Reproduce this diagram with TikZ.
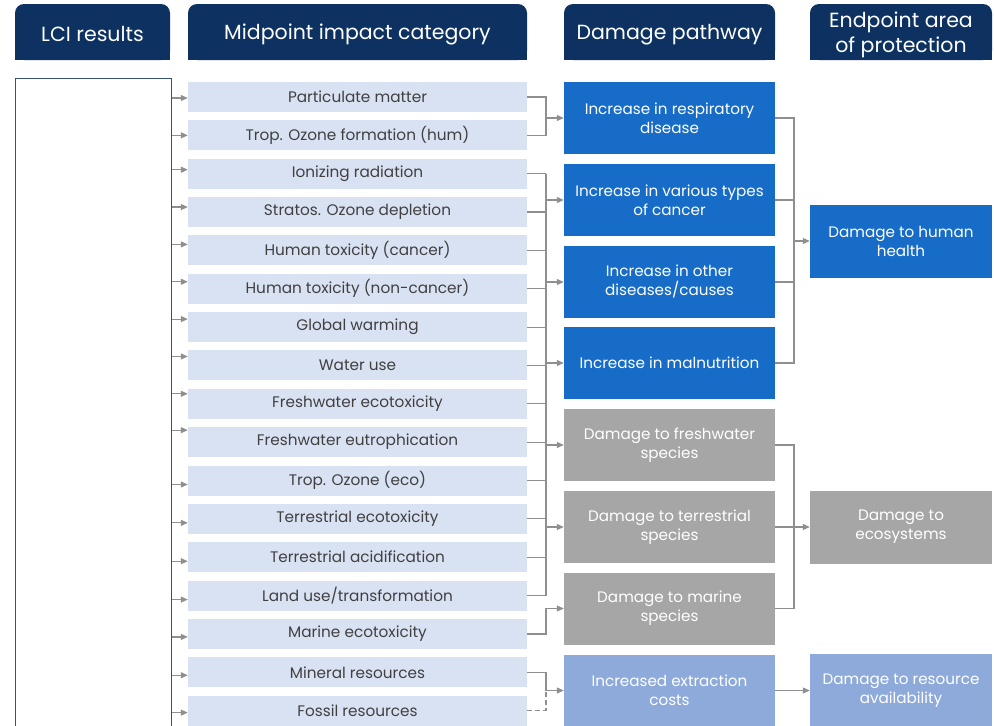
\documentclass[tikz,border=0pt]{standalone}
\usepackage{fontspec}
\setmainfont{Poppins}
\usetikzlibrary{arrows.meta}

\definecolor{navy}{HTML}{0D3261}
\definecolor{lciline}{HTML}{34527A}
\definecolor{midfill}{HTML}{D9E2F3}
\definecolor{midtext}{HTML}{404040}
\definecolor{hhblue}{HTML}{176CC8}
\definecolor{ecogray}{HTML}{A6A6A6}
\definecolor{resblue}{HTML}{8EAADB}
\definecolor{linkgray}{HTML}{8F8F8F}

\begin{document}
\begin{tikzpicture}[x=1pt,y=-1pt,
  hdr/.style={fill=navy, rounded corners=9pt, inner sep=0pt, minimum height=56pt},
  hdrtext/.style={text=white, inner sep=0pt, align=center, yshift=-2.5pt,
    font=\fontsize{20.5}{25}\selectfont},
  midbox/.style={fill=midfill, text=midtext, minimum width=339pt,
    minimum height=30pt, inner sep=0pt, font=\fontsize{15.3}{18}\selectfont},
  pwbox/.style={text=white, minimum width=211pt, minimum height=72pt,
    inner sep=0pt, align=center, font=\fontsize{15.2}{19}\selectfont},
  epbox/.style={pwbox, minimum width=182pt, minimum height=73pt},
  ln/.style={draw=linkgray, line width=1.2pt},
  arr/.style={ln, -{Triangle[length=7pt,width=6pt]}}]

\useasboundingbox (0,0) rectangle (994,726);
\clip (0,0) rectangle (994,726);

% column headers (rounded on top only)
\node[hdr, minimum width=155pt] (hLCI) at (92.5,32) {};
\node[hdr, minimum width=339pt] (hMid) at (357.5,32) {};
\node[hdr, minimum width=211pt] (hPath) at (669.5,32) {};
\node[hdr, minimum width=182pt] (hEnd) at (901,32) {};
\foreach \h in {hLCI,hMid,hPath,hEnd}
  \fill[navy] (\h.west) rectangle (\h.south east);
\node[hdrtext] at (hLCI) {LCI results};
\node[hdrtext] at (hMid) {Midpoint impact category};
\node[hdrtext] at (hPath) {Damage pathway};
\node[hdrtext] at (hEnd) {Endpoint area\\of protection};

% inventory results box
\node[draw=lciline, line width=1.3pt, minimum width=156pt, minimum height=680pt,
  inner sep=0pt, anchor=north west] (lci) at (15,78) {};

% midpoint categories
\foreach \i/\t in {1/Particulate matter, 2/Trop. Ozone formation (hum),
  3/Ionizing radiation, 4/Stratos. Ozone depletion, 5/Human toxicity (cancer),
  6/Human toxicity (non-cancer), 7/Global warming, 8/Water use,
  9/Freshwater ecotoxicity, 10/Freshwater eutrophication, 11/Trop. Ozone (eco),
  12/Terrestrial ecotoxicity, 13/Terrestrial acidification,
  14/{Land use/transformation}, 15/Marine ecotoxicity, 16/Mineral resources,
  17/Fossil resources}
  \node[midbox] (m\i) at (357.5,{97+(\i-1)*38.35}) {\t};

% inventory flows into each category
\foreach \i/\d in {1/1,2/0,3/-4,4/-5,5/-6,6/-7,7/-8,8/-9,9/-10,10/-12,
  11/4,12/4,13/4,14/4,15/3,16/3,17/2} {
  \path (lci.east |- m\i.west) ++(0,\d) coordinate (a\i);
  \draw[arr] (a\i) -- (a\i -| m\i.west);
}

% damage pathways
\node[pwbox, fill=hhblue] (p1) at (669.5,118) {Increase in respiratory\\disease};
\node[pwbox, fill=hhblue] (p2) at (669.5,200) {Increase in various types\\of cancer};
\node[pwbox, fill=hhblue] (p3) at (669.5,282) {Increase in other\\diseases/causes};
\node[pwbox, fill=hhblue] (p4) at (669.5,363) {Increase in malnutrition};
\node[pwbox, fill=ecogray] (p5) at (669.5,445) {Damage to freshwater\\species};
\node[pwbox, fill=ecogray] (p6) at (669.5,527) {Damage to terrestrial\\species};
\node[pwbox, fill=ecogray] (p7) at (669.5,608.5) {Damage to marine\\species};
\node[pwbox, fill=resblue] (p8) at (669.5,690.5) {Increased extraction\\costs};

% endpoint areas of protection
\node[epbox, fill=hhblue] (e1) at (901,241) {Damage to human\\health};
\node[epbox, fill=ecogray] (e2) at (901,527) {Damage to\\ecosystems};
\node[epbox, fill=resblue] (e3) at (901,690.5) {Damage to resource\\availability};

% bus columns
\coordinate (bx) at (546,0);
\coordinate (by) at (794,0);

% midpoint -> pathway
\draw[ln] (m1.east) -- (bx |- m1.east) -- (bx |- m2.east) -- (m2.east);
\draw[arr] (bx |- p1.west) -- (p1.west);
\foreach \i in {3,...,14}
  \draw[ln] (m\i.east) -- (bx |- m\i.east);
\draw[ln] (bx |- m3.east) -- (bx |- m14.east);
\foreach \j in {2,...,6}
  \draw[arr] (bx |- p\j.west) -- (p\j.west);
\draw[arr] (m15.east) -| (bx |- p7.west) -- (p7.west);
\draw[arr] (m16.east) -| (bx |- p8.west) -- (p8.west);
\draw[ln, dashed, dash pattern=on 5pt off 3pt] (m17.east) -| (bx |- p8.west);

% pathway -> endpoint
\draw[ln] (p1.east) -- (by |- p1.east) -- (by |- p4.east) -- (p4.east);
\draw[ln] (p2.east) -- (by |- p2.east);
\draw[ln] (p3.east) -- (by |- p3.east);
\draw[arr] (by |- e1.west) -- (e1.west);
\draw[ln] (p5.east) -- (by |- p5.east) -- (by |- p7.east) -- (p7.east);
\draw[ln] (p6.east) -- (by |- p6.east);
\draw[arr] (by |- e2.west) -- (e2.west);
\draw[arr] (p8.east) -- (e3.west);
\end{tikzpicture}
\end{document}
